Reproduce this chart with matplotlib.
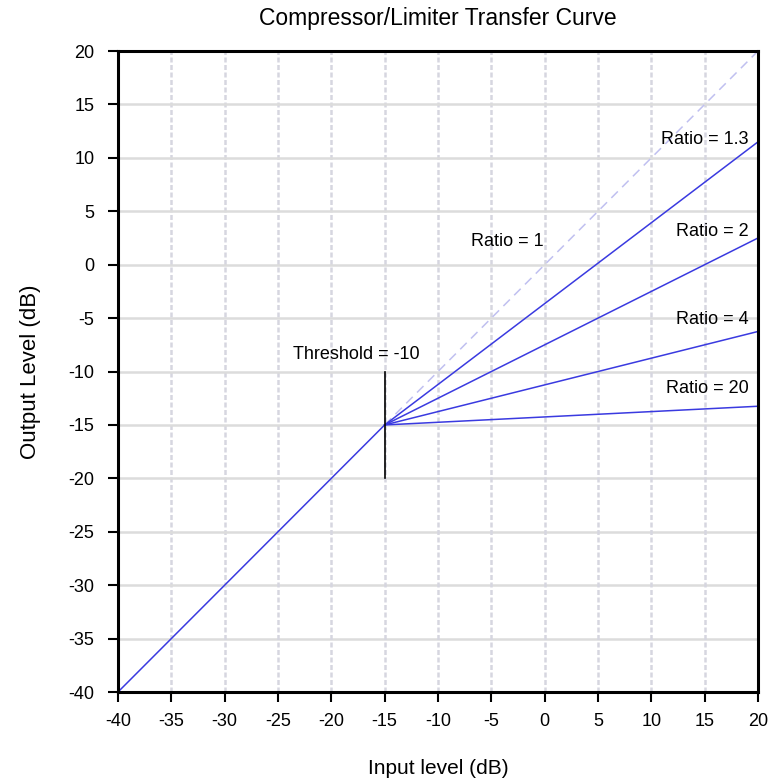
import numpy as np
import matplotlib
matplotlib.use('Agg')
import matplotlib.pyplot as plt

plt.rcParams['font.family'] = ['Liberation Sans', 'DejaVu Sans']
plt.rcParams['axes.unicode_minus'] = False

# Transfer curve data
knee = (-15, -15)
x_end = 20
ratio_labels = ['Ratio = 1', 'Ratio = 1.3', 'Ratio = 2', 'Ratio = 4', 'Ratio = 20']
y_end = [20, 11.5, 2.5, -6.25, -13.25]
ticks = [-40, -35, -30, -25, -20, -15, -10, -5, 0, 5, 10, 15, 20]

blue = '#3a3ae0'

fig = plt.figure(figsize=(7.69, 7.78), dpi=100)
ax = fig.add_axes([0.1534, 0.1105, 0.8323, 0.8239])

# Grid
for t in ticks[1:-1]:
	ax.axvline(t, color='#d6d6e0', lw=1.8, ls=(0, (2, 1)), zorder=0)
	ax.axhline(t, color='#dcdcdc', lw=1.8, zorder=0)

# Below threshold, 1:1
ax.plot([-40, knee[0]], [-40, knee[1]], color=blue, lw=1.1)

# Above threshold
for i, ye in enumerate(y_end):
	if i == 0:
		ax.plot([knee[0], x_end], [knee[1], ye], color='#c0c0f0', lw=1.1, ls=(0, (6, 4)))
	else:
		ax.plot([knee[0], x_end], [knee[1], ye], color=blue, lw=1.1)

# Threshold marker
ax.plot([-15, -15], [-20, -10], color='black', lw=1.2)

fs = 13
ax.text(-17.7, -8.4, 'Threshold = -10', ha='center', va='center', fontsize=fs)
ax.text(-3.5, 2.2, ratio_labels[0], ha='center', va='center', fontsize=fs)
ax.text(19.1, 11.7, ratio_labels[1], ha='right', va='center', fontsize=fs)
ax.text(19.1, 3.15, ratio_labels[2], ha='right', va='center', fontsize=fs)
ax.text(19.1, -5.1, ratio_labels[3], ha='right', va='center', fontsize=fs)
ax.text(19.1, -11.6, ratio_labels[4], ha='right', va='center', fontsize=fs)

ax.set_xlim(-40, 20)
ax.set_ylim(-40, 20)
ax.set_xticks(ticks)
ax.set_yticks(ticks)
ax.tick_params(direction='out', length=7, width=1.5, labelsize=13)
ax.tick_params(axis='x', pad=8)
ax.tick_params(axis='y', pad=10)
for s in ax.spines.values():
	s.set_linewidth(2.2)

ax.set_title('Compressor/Limiter Transfer Curve', fontsize=16.5, pad=19)
ax.set_xlabel('Input level (dB)', fontsize=15, labelpad=21)
ax.set_ylabel('Output Level (dB)', fontsize=16, labelpad=20)

fig.savefig('out.png', dpi=100)
